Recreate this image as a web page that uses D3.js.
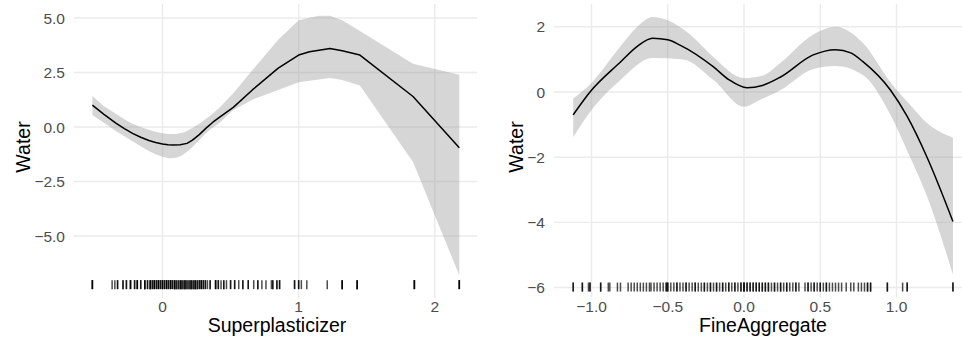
<!DOCTYPE html>
<html>
<head>
<meta charset="utf-8">
<script src="https://cdn.jsdelivr.net/npm/d3@7"></script>
<style>
    body { margin: 0; background: #fff; }
    svg { display: block; font-family: "Liberation Sans", Arial, sans-serif; }
</style>
</head>
<body>
<div id="chart"></div>
<script>
// Superplasticizer panel: [x, value]
const superFit = [[-0.515, 1.0], [-0.43, 0.58], [-0.34, 0.17], [-0.28, -0.07], [-0.22, -0.29], [-0.16, -0.47],
    [-0.1, -0.62], [-0.05, -0.71], [0.0, -0.78], [0.04, -0.815], [0.08, -0.83], [0.13, -0.815], [0.18, -0.75],
    [0.22, -0.6], [0.27, -0.35], [0.32, -0.05], [0.37, 0.22], [0.42, 0.45], [0.52, 0.9], [0.66, 1.7],
    [0.85, 2.7], [1.0, 3.3], [1.08, 3.45], [1.23, 3.6], [1.32, 3.5], [1.45, 3.3], [1.84, 1.4], [2.18, -0.95]];
const superUpper = [[-0.515, 1.42], [-0.43, 0.95], [-0.34, 0.6], [-0.28, 0.36], [-0.22, 0.15], [-0.16, 0.0],
    [-0.1, -0.12], [-0.05, -0.22], [0.0, -0.29], [0.05, -0.32], [0.1, -0.32], [0.16, -0.24], [0.22, -0.05],
    [0.27, 0.15], [0.32, 0.38], [0.37, 0.62], [0.42, 0.9], [0.52, 1.55], [0.66, 2.6], [0.85, 4.0],
    [1.0, 4.9], [1.15, 5.1], [1.23, 5.1], [1.32, 4.9], [1.45, 4.4], [1.84, 2.9], [2.18, 2.4]];
const superLower = [[-0.515, 0.55], [-0.43, 0.2], [-0.34, -0.2], [-0.28, -0.42], [-0.22, -0.65], [-0.16, -0.88],
    [-0.1, -1.1], [-0.05, -1.25], [0.0, -1.36], [0.05, -1.43], [0.1, -1.41], [0.14, -1.32], [0.18, -1.14],
    [0.22, -0.92], [0.27, -0.6], [0.32, -0.28], [0.37, -0.02], [0.42, 0.2], [0.52, 0.78], [0.66, 1.25],
    [0.85, 1.7], [1.0, 2.05], [1.23, 2.25], [1.32, 2.15], [1.45, 1.9], [1.84, -1.6], [2.18, -6.8]];
const superRug = [-0.515, -0.515, -0.515, -0.37, -0.35, -0.33, -0.33, -0.29, -0.29, -0.265, -0.265,
    -0.235, -0.235, -0.235, -0.205, -0.205, -0.185, -0.185, -0.185, -0.16, -0.16, -0.13, -0.13, -0.13,
    -0.11, -0.11, -0.09, -0.09, -0.09, -0.075, -0.075, -0.06, -0.06, -0.06, -0.045, -0.045, -0.03, -0.03,
    -0.03, -0.015, -0.015, 0, 0, 0, 0.015, 0.015, 0.03, 0.03, 0.03, 0.045, 0.045, 0.06, 0.06, 0.06, 0.075,
    0.075, 0.09, 0.09, 0.09, 0.105, 0.105, 0.12, 0.12, 0.135, 0.135, 0.135, 0.15, 0.15, 0.165, 0.165, 0.165,
    0.18, 0.18, 0.195, 0.195, 0.21, 0.21, 0.21, 0.225, 0.225, 0.24, 0.24, 0.24, 0.255, 0.255, 0.27, 0.27,
    0.285, 0.285, 0.285, 0.30, 0.30, 0.315, 0.315, 0.33, 0.35, 0.35, 0.39, 0.39, 0.39, 0.41, 0.41, 0.43,
    0.45, 0.45, 0.47, 0.50, 0.50, 0.53, 0.53, 0.56, 0.59, 0.59, 0.63, 0.63, 0.67, 0.70, 0.70, 0.73, 0.76,
    0.80, 0.81, 0.81, 0.84, 0.84, 0.86, 0.86, 0.97, 0.97, 1.0, 1.0, 1.02, 1.06, 1.21, 1.32, 1.32, 1.32,
    1.43, 1.43, 1.43, 1.85, 1.85, 1.85, 2.18, 2.18, 2.18];
const superXTicks = [0, 1, 2];
const superYTicks = [-5, -2.5, 0, 2.5, 5];

// FineAggregate panel: [x, value]
const fineFit = [[-1.12, -0.7], [-1.01, 0.0], [-0.81, 0.92], [-0.7, 1.4], [-0.6, 1.65], [-0.5, 1.6],
    [-0.42, 1.44], [-0.2, 0.77], [-0.1, 0.38], [0.02, 0.13], [0.12, 0.2], [0.24, 0.46], [0.45, 1.13],
    [0.6, 1.3], [0.7, 1.2], [0.78, 0.93], [0.96, 0.06], [1.07, -0.75], [1.2, -2.0], [1.37, -3.97]];
const fineUpper = [[-1.12, -0.2], [-1.0, 0.28], [-0.81, 1.4], [-0.7, 2.0], [-0.6, 2.3], [-0.5, 2.2],
    [-0.35, 1.75], [-0.2, 1.07], [0.0, 0.43], [0.12, 0.5], [0.24, 0.9], [0.45, 1.75], [0.6, 2.0],
    [0.78, 1.5], [0.96, 0.3], [1.1, -0.45], [1.2, -0.95], [1.37, -1.4]];
const fineLower = [[-1.12, -1.38], [-1.0, -0.55], [-0.81, 0.37], [-0.6, 1.04], [-0.4, 1.0], [-0.2, 0.37],
    [0.0, -0.45], [0.1, -0.25], [0.24, 0.06], [0.45, 0.7], [0.6, 0.8], [0.78, 0.52], [0.96, -0.7],
    [1.07, -1.8], [1.2, -3.2], [1.37, -5.6]];
const fineRug = [-1.12, -1.12, -1.06, -1.06, -1.02, -1.01, -1.01, -0.94, -0.94, -0.89, -0.88, -0.83, -0.81,
    -0.76, -0.74, -0.72, -0.70, -0.68, -0.66, -0.64, -0.62, -0.61, -0.59, -0.57, -0.55, -0.53, -0.51, -0.51,
    -0.5, -0.5, -0.48, -0.46, -0.44, -0.44, -0.42, -0.40, -0.38, -0.38, -0.36, -0.34, -0.32, -0.32, -0.30,
    -0.28, -0.26, -0.26, -0.24, -0.22, -0.22, -0.20, -0.18, -0.18, -0.16, -0.14, -0.14, -0.12, -0.10,
    -0.10, -0.08, -0.06, -0.06, -0.04, -0.02, -0.02, 0.0, 0.0, 0.0, 0.02, 0.02, 0.04, 0.04, 0.06, 0.06,
    0.08, 0.08, 0.10, 0.10, 0.12, 0.12, 0.14, 0.14, 0.16, 0.16, 0.18, 0.20, 0.20, 0.22, 0.24, 0.24, 0.26,
    0.28, 0.28, 0.30, 0.32, 0.34, 0.34, 0.36, 0.40, 0.42, 0.42, 0.44, 0.46, 0.46, 0.48, 0.50, 0.50, 0.52,
    0.54, 0.54, 0.56, 0.58, 0.60, 0.62, 0.64, 0.67, 0.70, 0.72, 0.75, 0.77, 0.79, 0.81, 0.81, 0.83, 0.83,
    0.94, 0.94, 1.04, 1.07, 1.07, 1.37, 1.37];
const fineXTicks = [-1.0, -0.5, 0.0, 0.5, 1.0];
const fineYTicks = [-6, -4, -2, 0, 2];

const width = 962;
const height = 341;

let svg = d3.select('#chart').append('svg')
    .attr('width', width)
    .attr('height', height);

function fmtMinus(s) {
    return s.replace('-', '\u2212');
}

function drawPanel(opts) {
    let x = d3.scaleLinear().domain(opts.xDomain).range([opts.left, opts.right]);
    let y = d3.scaleLinear().domain(opts.yDomain).range([298, 4]);
    let g = svg.append('g');

    // grid
    g.selectAll('.hgrid').data(opts.yTicks).join('line')
        .attr('x1', opts.left).attr('x2', opts.right)
        .attr('y1', d => y(d)).attr('y2', d => y(d))
        .attr('stroke', '#ebebeb').attr('stroke-width', 1.4);
    g.selectAll('.vgrid').data(opts.xTicks).join('line')
        .attr('x1', d => x(d)).attr('x2', d => x(d))
        .attr('y1', 4).attr('y2', 298)
        .attr('stroke', '#ebebeb').attr('stroke-width', 1.4);

    // confidence band: upper edge forward, lower edge back
    let edge = d3.line().curve(opts.curve).x(d => x(d[0])).y(d => y(d[1]));
    let bandPath = edge(opts.upper) + 'L' + edge(opts.lower.slice().reverse()).slice(1) + 'Z';
    g.append('path')
        .attr('d', bandPath)
        .attr('fill', '#999999')
        .attr('fill-opacity', 0.4);

    // fitted line
    g.append('path')
        .attr('d', edge(opts.fit))
        .attr('fill', 'none')
        .attr('stroke', '#000')
        .attr('stroke-width', 1.5)
        .attr('stroke-linejoin', 'round');

    // rug
    g.selectAll('.rug').data(opts.rug).join('line')
        .attr('x1', d => x(d)).attr('x2', d => x(d))
        .attr('y1', y(opts.rugAt) - 5).attr('y2', y(opts.rugAt) + 4)
        .attr('stroke', '#000')
        .attr('stroke-opacity', 0.7)
        .attr('stroke-width', 1.5);

    // tick labels
    g.selectAll('.ylab').data(opts.yTicks).join('text')
        .attr('x', opts.left - 9)
        .attr('y', d => y(d))
        .attr('dy', '0.36em')
        .attr('text-anchor', 'end')
        .attr('font-size', 15.5)
        .attr('fill', '#4d4d4d')
        .text(d => fmtMinus(d3.format(opts.yFormat)(d)));
    g.selectAll('.xlab').data(opts.xTicks).join('text')
        .attr('x', d => x(d))
        .attr('y', 312)
        .attr('text-anchor', 'middle')
        .attr('font-size', 15.5)
        .attr('fill', '#4d4d4d')
        .text(d => fmtMinus(d3.format(opts.xFormat)(d)));

    // axis titles
    g.append('text')
        .attr('x', opts.titleMid)
        .attr('y', 332)
        .attr('text-anchor', 'middle')
        .attr('font-size', 19.5)
        .attr('fill', '#000')
        .text(opts.xTitle);
    g.append('text')
        .attr('transform', `translate(${opts.titleX},147) rotate(-90)`)
        .attr('text-anchor', 'middle')
        .attr('font-size', 19.5)
        .attr('fill', '#000')
        .text('Water');
}

drawPanel({
    left: 74, right: 477,
    xDomain: [-0.65, 2.31], yDomain: [-7.84, 5.64],
    xTicks: superXTicks, yTicks: superYTicks,
    xFormat: 'd', yFormat: '.1f',
    fit: superFit, upper: superUpper, lower: superLower,
    curve: d3.curveLinear,
    rug: superRug, rugAt: -7.25,
    xTitle: 'Superplasticizer', titleMid: 277, titleX: 30,
});

drawPanel({
    left: 554, right: 972,
    xDomain: [-1.246, 1.495], yDomain: [-6.32, 2.70],
    xTicks: fineXTicks, yTicks: fineYTicks,
    xFormat: '.1f', yFormat: 'd',
    fit: fineFit, upper: fineUpper, lower: fineLower,
    curve: d3.curveMonotoneX,
    rug: fineRug, rugAt: -6,
    xTitle: 'FineAggregate', titleMid: 763, titleX: 523,
});
</script>
</body>
</html>
